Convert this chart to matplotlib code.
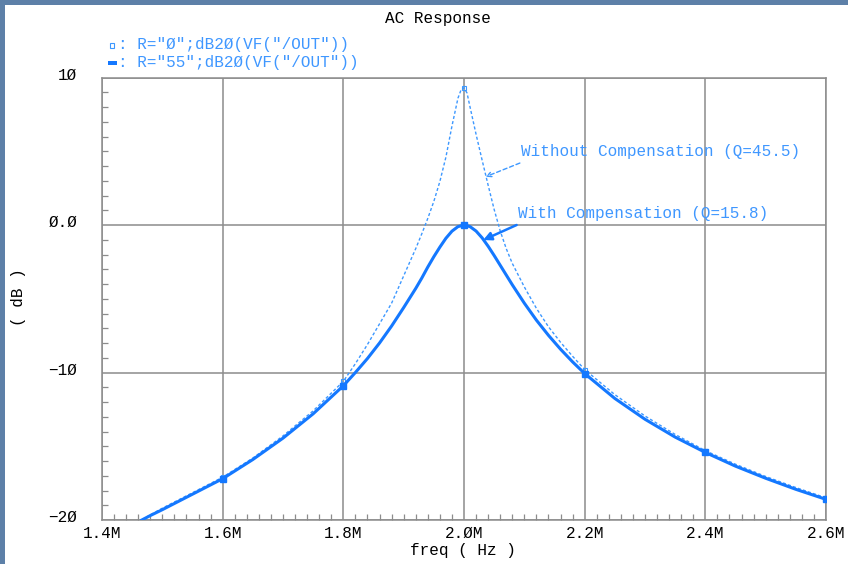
import numpy as np
import matplotlib
matplotlib.use("Agg")
import matplotlib.pyplot as plt
from matplotlib.patches import Rectangle
from matplotlib.ticker import MultipleLocator, FixedLocator
import matplotlib.transforms as mtransforms

# ---------------- data ----------------
freq_comp_mhz = [1.466, 1.48, 1.50, 1.55, 1.60, 1.65, 1.70, 1.75, 1.80, 1.82, 1.84,
                 1.86, 1.88, 1.90, 1.92, 1.93, 1.94, 1.95, 1.96, 1.97, 1.98, 1.99,
                 2.00, 2.01, 2.02, 2.03, 2.04, 2.05, 2.06, 2.08, 2.10, 2.12, 2.14,
                 2.16, 2.18, 2.20, 2.25, 2.30, 2.35, 2.40, 2.45, 2.50, 2.55, 2.60]
db_comp = [-20.0, -19.7, -19.3, -18.25, -17.2, -15.9, -14.45, -12.8, -10.9, -10.0, -9.05,
           -8.0, -6.85, -5.6, -4.3, -3.6, -2.85, -2.15, -1.5, -0.9, -0.42, -0.11,
           0.0, -0.11, -0.41, -0.87, -1.44, -2.07, -2.73, -4.05, -5.3, -6.45, -7.48,
           -8.42, -9.28, -10.07, -11.76, -13.17, -14.38, -15.42, -16.35, -17.17, -17.92, -18.6]

freq_nocomp_mhz = [1.466, 1.48, 1.50, 1.55, 1.60, 1.65, 1.70, 1.75, 1.80, 1.82, 1.84,
                   1.86, 1.88, 1.90, 1.92, 1.93, 1.94, 1.95, 1.96, 1.97, 1.98, 1.99,
                   1.995, 2.00, 2.005, 2.01, 2.02, 2.03, 2.04, 2.05, 2.06, 2.07, 2.08,
                   2.10, 2.12, 2.14, 2.16, 2.18, 2.20, 2.25, 2.30, 2.35, 2.40, 2.45,
                   2.50, 2.55, 2.60]
db_nocomp = [-20.0, -19.65, -19.2, -18.15, -17.1, -15.8, -14.3, -12.6, -10.6, -9.4, -8.1,
             -6.7, -5.3, -3.45, -1.6, -0.6, 0.45, 1.6, 2.95, 4.6, 6.7, 8.6,
             9.15, 9.3, 8.95, 8.0, 6.15, 4.4, 2.7, 1.05, -0.4, -1.6, -2.6,
             -4.2, -5.65, -6.9, -7.95, -8.9, -9.8, -11.5, -12.95, -14.2, -15.3, -16.22,
             -17.05, -17.8, -18.5]

marker_freqs_mhz = [1.60, 1.80, 2.00, 2.20, 2.40, 2.60]

xtick_values_mhz = [1.4, 1.6, 1.8, 2.0, 2.2, 2.4, 2.6]
xtick_labels = ["1.4M", "1.6M", "1.8M", "2.ØM", "2.2M", "2.4M", "2.6M"]
ytick_values = [-20, -10, 0, 10]
ytick_labels = ["\u22122Ø", "\u22121Ø", "Ø.Ø", "1Ø"]

title = "AC Response"
legend_lines = ['R="Ø";dB2Ø(VF("/OUT"))', 'R="55";dB2Ø(VF("/OUT"))']
label_nocomp = "Without Compensation (Q=45.5)"
label_comp = "With Compensation (Q=15.8)"

# ---------------- styling ----------------
W, H, DPI = 848, 564, 100
FONT = ["Liberation Mono", "DejaVu Sans Mono"]
FS = 11.5
solid_col = "#1478ff"
dash_col = "#3d98ff"
text_col = "#3f97ff"
grid_col = "#8c8c8c"

plt.rcParams["font.family"] = FONT
fig = plt.figure(figsize=(W / DPI, H / DPI), dpi=DPI, facecolor="white")

# textured blue frame strips (top and left)
fig.add_artist(Rectangle((0, 1 - 5 / H), 1, 5 / H, transform=fig.transFigure,
                         facecolor="#5d80a8", edgecolor="none", zorder=0))
fig.add_artist(Rectangle((0, 0), 5 / W, 1, transform=fig.transFigure,
                         facecolor="#5d80a8", edgecolor="none", zorder=0))

ax_l, ax_r, ax_t, ax_b = 102, 826, 77.5, 520
ax = fig.add_axes([ax_l / W, 1 - ax_b / H, (ax_r - ax_l) / W, (ax_b - ax_t) / H])
ax.set_facecolor("white")

f_c = np.array(freq_comp_mhz) * 1e6
f_n = np.array(freq_nocomp_mhz) * 1e6
mk_c = [int(np.argmin(np.abs(np.array(freq_comp_mhz) - m))) for m in marker_freqs_mhz]
mk_n = [int(np.argmin(np.abs(np.array(freq_nocomp_mhz) - m))) for m in marker_freqs_mhz]

ax.plot(f_n, db_nocomp, color=dash_col, lw=1.0, linestyle=(0, (2.2, 1.6)),
        marker="s", markersize=3.5, markerfacecolor="none", markeredgewidth=0.8,
        markevery=mk_n, zorder=3, clip_on=True)
ax.plot(f_c, db_comp, color=solid_col, lw=2.2, solid_joinstyle="round",
        marker="s", markersize=4.5, markevery=mk_c, zorder=4, clip_on=True)

ax.set_xlim(1.4e6, 2.6e6)
ax.set_ylim(-20, 10)
ax.xaxis.set_major_locator(FixedLocator([v * 1e6 for v in xtick_values_mhz]))
ax.set_xticklabels(xtick_labels)
ax.xaxis.set_minor_locator(MultipleLocator(0.02e6))
ax.yaxis.set_major_locator(FixedLocator(ytick_values))
ax.set_yticklabels(ytick_labels)
ax.yaxis.set_minor_locator(MultipleLocator(1))

ax.grid(True, which="major", color=grid_col, lw=1.1)
for s in ax.spines.values():
    s.set_color(grid_col)
    s.set_linewidth(1.1)
ax.tick_params(which="both", direction="in", colors=grid_col, labelcolor="black",
               top=False, right=False, labelsize=FS)
ax.tick_params(which="major", length=0, width=1.0)
ax.tick_params(which="minor", length=4, width=0.9)
ax.tick_params(axis="x", which="major", pad=4)
ax.tick_params(axis="y", which="major", pad=18)

up = mtransforms.ScaledTranslation(0, 4 / DPI, fig.dpi_scale_trans)
for lab in ax.get_yticklabels():
    lab.set_transform(lab.get_transform() + up)

# axis labels / title
fig.text(463 / W, 1 - 550 / H, "freq ( Hz )", ha="center", va="center", fontsize=FS)
fig.text(18 / W, 1 - 297 / H, "( dB )", ha="center", va="center", rotation=90, fontsize=FS)
fig.text(438 / W, 1 - 18 / H, title, ha="center", va="center", fontsize=FS)

# legend-like header
fig.add_artist(Rectangle((110 / W, 1 - 48 / H), 4 / W, 5 / H, transform=fig.transFigure,
                         facecolor="none", edgecolor=dash_col, lw=0.8))
fig.add_artist(Rectangle((108 / W, 1 - 65 / H), 9 / W, 4 / H, transform=fig.transFigure,
                         facecolor=solid_col, edgecolor="none"))
fig.text(118 / W, 1 - 45 / H, ": " + legend_lines[0], ha="left", va="center",
         fontsize=FS, color=text_col)
fig.text(118 / W, 1 - 62 / H, ": " + legend_lines[1], ha="left", va="center",
         fontsize=FS, color=text_col)

# annotations
ax.text(2.0943e6, 4.95, label_nocomp, ha="left", va="center", fontsize=FS, color=text_col)
ax.text(2.0893e6, 0.78, label_comp, ha="left", va="center", fontsize=FS, color=text_col)
ax.annotate("", xy=(2.0358e6, 3.27), xytext=(2.0926e6, 4.2),
            arrowprops=dict(arrowstyle="->", color=dash_col, lw=1.0,
                            linestyle=(0, (3, 2)), mutation_scale=8,
                            shrinkA=0, shrinkB=0))
ax.annotate("", xy=(2.0318e6, -1.02), xytext=(2.0872e6, 0.0),
            arrowprops=dict(arrowstyle="-|>", color=solid_col, lw=1.8,
                            mutation_scale=12, shrinkA=0, shrinkB=0))

fig.savefig("out.png", dpi=DPI, facecolor=fig.get_facecolor())
